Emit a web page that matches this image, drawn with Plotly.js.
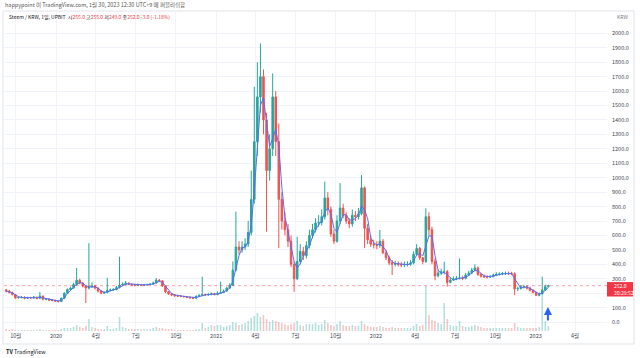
<!DOCTYPE html>
<html><head><meta charset="utf-8">
<script src="https://cdn.plot.ly/plotly-3.0.1.min.js"></script>
<style>html,body{margin:0;padding:0;background:#fff}#chart{width:640px;height:358px}</style>
</head><body><div id="chart"></div>
<script>
// Weekly candles, Steem / KRW (UPBIT)
const firstWeek = '2019-09-09';
const openPrice = [222,215,205,190,168,170,172,165,170,168,
172,165,180,158,160,152,150,145,142,165,
200,225,236,260,290,270,250,236,245,250,
236,215,200,205,220,222,225,240,256,262,
270,262,258,255,258,256,258,260,262,270,
290,285,250,210,195,188,182,180,178,176,
172,168,165,178,185,190,188,192,196,190,
200,205,215,236,255,360,520,500,520,540,
620,850,1250,1560,1700,1400,1050,1200,1560,1250,
850,700,640,560,400,300,420,490,460,530,
600,640,686,690,730,860,780,610,560,700,
790,740,700,680,740,730,750,930,650,570,
540,535,530,560,480,445,410,400,405,400,
395,400,400,410,470,510,445,420,730,640,
420,320,340,349,350,275,291,300,303,305,
303,326,340,360,375,330,318,314,312,315,
326,330,333,336,337,336,335,230,233,245,
245,235,220,205,185,195,222,245];
const highPrice = [230,222,210,195,178,180,178,176,175,180,
176,208,182,166,164,158,155,150,170,206,
232,245,272,374,300,275,256,547,275,258,
240,220,212,307,232,235,250,453,275,285,
274,268,264,266,264,264,266,270,280,305,
298,290,255,215,200,194,188,185,182,180,
176,172,185,192,314,198,200,205,202,212,
280,225,245,270,420,765,560,560,580,700,
1050,1630,1800,1930,1750,1450,1300,1723,1600,1376,
900,760,680,600,420,591,540,520,560,640,
680,720,740,780,973,900,800,640,740,963,
820,760,720,780,770,790,1019,940,680,600,
570,560,638,575,500,460,430,425,420,415,
420,420,430,490,540,520,450,788,760,660,
440,360,370,418,360,310,315,320,441,320,
340,355,375,400,385,340,330,325,325,335,
345,345,348,350,350,348,345,245,255,258,
255,245,228,210,205,314,258,258];
const lowPrice = [205,198,185,160,162,164,158,160,160,162,
158,160,150,150,145,144,140,136,138,160,
195,218,230,252,262,240,132,225,236,226,
205,192,195,198,212,215,220,232,248,255,
255,250,248,250,248,250,252,255,258,265,
278,245,200,188,180,175,174,172,170,166,
162,160,162,172,180,182,182,185,185,186,
195,200,210,230,250,350,470,480,500,520,
600,820,1150,1450,1300,626,980,1150,1150,512,
640,600,520,380,210,290,400,430,440,510,
580,620,660,670,710,740,590,540,550,680,
720,680,650,660,700,710,740,512,540,520,
510,505,515,470,430,395,326,385,385,380,
380,385,390,400,460,430,400,410,600,400,
290,310,325,330,245,268,285,290,295,290,
295,318,332,350,320,308,305,302,305,310,
318,322,325,326,325,325,187,215,225,232,
225,212,198,180,178,190,215,240];
const closePrice = [215,205,190,168,170,172,165,170,168,172,
165,180,158,160,152,150,145,142,165,200,
225,236,260,290,270,250,236,245,250,236,
215,200,205,220,222,225,240,256,262,270,
262,258,255,258,256,258,260,262,270,290,
285,250,210,195,188,182,180,178,176,172,
168,165,178,185,190,188,192,196,190,200,
205,215,236,255,360,520,500,520,540,620,
850,1250,1560,1700,1400,1050,1200,1560,1250,850,
700,640,560,400,300,420,490,460,530,600,
640,686,690,730,860,780,610,560,700,790,
740,700,680,740,730,750,930,650,570,540,
535,530,560,480,445,410,400,405,400,395,
400,400,410,470,510,445,420,730,640,420,
320,340,349,350,275,291,300,303,305,303,
326,340,360,375,330,318,314,312,315,326,
330,333,336,337,336,335,230,233,245,245,
235,220,205,185,195,222,245,252];
const maLine = [215,210,203,188,176,170,169,169,168,170,
168,172,168,166,157,154,149,146,151,169,
197,220,240,262,273,270,252,244,244,244,
234,217,207,208,216,222,229,240,253,263,
265,263,258,257,256,257,258,260,264,274,
282,275,248,218,198,188,183,180,178,175,
172,168,170,176,184,188,190,192,193,195,
198,207,219,235,284,378,460,513,520,560,
670,907,1220,1503,1553,1383,1217,1270,1337,1220,
933,730,633,533,420,373,403,457,493,530,
590,642,672,702,760,790,750,650,623,683,
743,743,707,707,717,740,803,777,717,587,
548,535,542,523,495,445,418,405,402,400,
400,398,403,427,463,475,458,532,597,597,
460,360,336,346,325,305,289,298,303,304,
311,323,342,358,355,341,321,315,314,318,
324,330,334,335,336,336,300,266,236,241,
242,233,220,203,195,201,221,240];
const volume = [2,1,2,1,1,1,1,1,1,1,
1,2,1,1,1,1,1,1,2,3,
3,3,4,6,4,3,5,12,4,3,
2,2,2,5,2,2,3,14,4,3,
2,2,2,2,2,2,2,2,3,4,
3,3,2,2,2,1,1,1,1,1,
1,1,2,2,8,3,4,6,5,6,
6,4,5,6,9,8,6,7,8,10,
13,15,18,14,16,12,9,11,10,9,
8,7,6,7,8,10,6,5,7,7,
7,8,6,7,11,8,6,5,7,10,
6,5,5,6,5,5,10,7,5,4,
4,4,5,4,3,3,4,3,3,3,
3,3,3,5,7,5,6,45,16,11,
10,8,7,28,12,6,5,5,10,5,
4,4,5,6,5,4,3,3,3,3,
3,3,3,3,3,3,8,4,3,3,
3,3,3,3,4,36,10,5];
const timeTicks = ['2019-10-01','2020-01-01','2020-04-01','2020-07-01','2020-10-01','2021-01-01','2021-04-01','2021-07-01','2021-10-01','2022-01-01','2022-04-01','2022-07-01','2022-10-01','2023-01-01','2023-04-01'];
const timeLabels = ['10월','2020','4월','7월','10월','2021','4월','7월','10월','2022','4월','7월','10월','2023','4월'];
const priceTicks = [0,100,200,300,400,500,600,700,800,900,1000,1100,1200,1300,1400,1500,1600,1700,1800,1900,2000];
const lastPrice = 252.0;

const t0 = Date.parse(firstWeek + 'T00:00:00Z');
const weeks = closePrice.map((_, i) => new Date(t0 + i * 7 * 86400000).toISOString().slice(0, 10));
const UP = '#26a69a', DOWN = '#ef5350';
const volColors = closePrice.map((c, i) => c >= openPrice[i] ? 'rgba(38,166,154,0.35)' : 'rgba(239,83,80,0.35)');
const FONT = 'Noto Sans CJK KR, Noto Sans, sans-serif';

const traces = [
  {type: 'bar', x: weeks, y: volume, yaxis: 'y2', marker: {color: volColors, line: {width: 0}}, hoverinfo: 'skip', showlegend: false},
  {type: 'candlestick', x: weeks, open: openPrice, high: highPrice, low: lowPrice, close: closePrice,
   increasing: {line: {color: UP, width: 1}, fillcolor: UP},
   decreasing: {line: {color: DOWN, width: 1}, fillcolor: DOWN},
   whiskerwidth: 0, hoverinfo: 'skip', showlegend: false},
  {type: 'scatter', mode: 'lines', x: weeks, y: maLine, line: {color: '#5b6cf0', width: 1}, hoverinfo: 'skip', showlegend: false}
];

const layout = {
  width: 640, height: 358, autosize: false,
  margin: {l: 4, r: 33, t: 11, b: 27},
  paper_bgcolor: '#ffffff', plot_bgcolor: '#ffffff',
  bargap: 0.5,
  showlegend: false,
  font: {family: FONT, size: 6, color: '#434651'},
  xaxis: {type: 'date', range: ['2019-09-04', '2023-06-13'], rangeslider: {visible: false},
    tickmode: 'array', tickvals: timeTicks, ticktext: timeLabels,
    showgrid: true, gridcolor: '#f0f3fa', gridwidth: 1, zeroline: false, showline: false,
    ticks: '', tickfont: {family: FONT, size: 5.5, color: '#434651'}, fixedrange: true},
  yaxis: {side: 'right', range: [-62, 2155], tickmode: 'array', tickvals: priceTicks,
    ticktext: priceTicks.map(v => v === 200 ? '' : v.toFixed(1)),
    showgrid: true, gridcolor: '#f0f3fa', gridwidth: 1, zeroline: false, showline: false,
    ticks: '', ticklabelstandoff: 4, tickfont: {family: FONT, size: 5.5, color: '#434651'}, fixedrange: true},
  yaxis2: {overlaying: 'y', range: [0, 320], visible: false, fixedrange: true},
  shapes: [
    {type: 'rect', xref: 'paper', yref: 'paper', x0: -0.0017, x1: 1.0448, y0: -0.0406, y1: 1.0,
     line: {color: '#e0e3eb', width: 1}, fillcolor: 'rgba(0,0,0,0)', layer: 'below'},
    {type: 'line', xref: 'paper', yref: 'y', x0: 0, x1: 1, y0: lastPrice, y1: lastPrice,
     line: {color: 'rgba(242,54,69,0.45)', width: 1, dash: 'dot'}, layer: 'above'},
    {type: 'rect', xref: 'paper', yref: 'y', x0: 1.0, x1: 1.0431, y0: 177, y1: 277,
     line: {width: 0}, fillcolor: '#f23645', layer: 'above'}
  ],
  annotations: [
    {xref: 'paper', yref: 'paper', x: -0.0017, y: 1.019, xanchor: 'left', yanchor: 'middle', showarrow: false,
     text: 'happypoint 이 TradingView.com, 1월 30, 2023 12:30 UTC+9 에 퍼블리쉬함',
     font: {family: FONT, size: 5.5, color: '#555555'}},
    {xref: 'paper', yref: 'paper', x: 0.005, y: 0.981, xanchor: 'left', yanchor: 'middle', showarrow: false,
     text: 'Steem / KRW, 1일, UPBIT  시<span style="color:#f23645">255.0</span> 고<span style="color:#f23645">255.0</span> 저<span style="color:#f23645">249.0</span> 종<span style="color:#f23645">252.0</span> <span style="color:#f23645">-3.0 (-1.18%)</span>',
     font: {family: FONT, size: 5, color: '#131722'}},
    {xref: 'paper', yref: 'paper', x: 1.0133, y: 0.984, xanchor: 'left', yanchor: 'middle', showarrow: false,
     text: 'KRW', font: {family: FONT, size: 5, color: '#787b86'}},
    {xref: 'paper', yref: 'y', x: 1.0075, y: 228, xanchor: 'left', yanchor: 'middle', align: 'left', showarrow: false,
     text: lastPrice.toFixed(1) + '<br>20:29:52', font: {family: FONT, size: 5, color: '#ffffff'}},
    {xref: 'x', yref: 'y', x: '2023-01-29', y: 104, ax: 0, ay: 15, axref: 'pixel', ayref: 'pixel',
     showarrow: true, text: '', arrowcolor: '#2962ff', arrowwidth: 2, arrowhead: 2, arrowsize: 0.8},
    {xref: 'paper', yref: 'paper', x: 0.0, y: -0.066, xanchor: 'left', yanchor: 'middle', showarrow: false,
     text: '<b>TV</b> TradingView', font: {family: FONT, size: 5.5, color: '#131722'}}
  ]
};

Plotly.newPlot('chart', traces, layout, {staticPlot: true, displayModeBar: false});
</script>
</body></html>
